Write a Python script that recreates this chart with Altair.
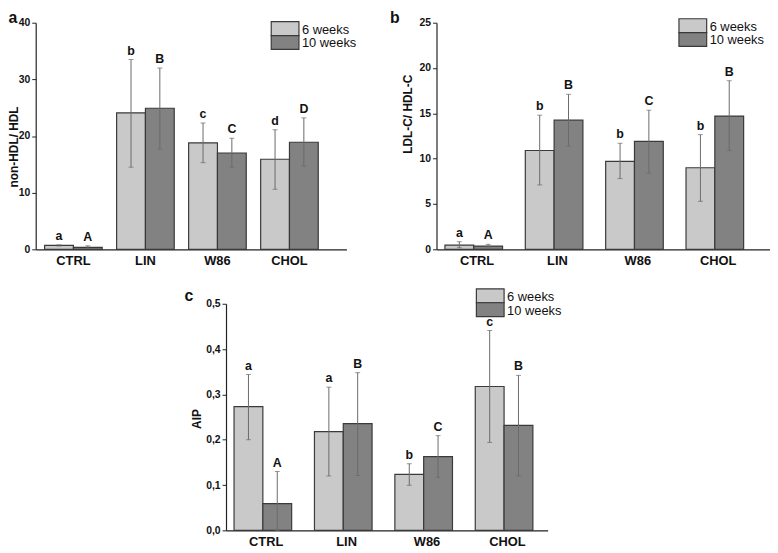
import altair as alt
import pandas as pd

groups = ["CTRL", "LIN", "W86", "CHOL"]
series = ["6 weeks", "10 weeks"]
colors = ["#c9c9c9", "#828282"]

# Panel a: non-HDL / HDL
a_6 = [0.7, 24.1, 18.8, 15.9]
a_6_lo = [0.58, 14.5, 15.3, 10.6]
a_6_hi = [0.8, 33.5, 22.3, 21.1]
a_10 = [0.35, 24.9, 17.0, 18.9]
a_10_lo = [0.17, 17.7, 14.5, 14.7]
a_10_hi = [0.62, 32.0, 19.6, 23.2]
a_lab6 = ["a", "b", "c", "d"]
a_lab10 = ["A", "B", "C", "D"]

# Panel b: LDL-C / HDL-C
b_6 = [0.47, 10.9, 9.7, 9.0]
b_6_lo = [0.18, 7.1, 7.8, 5.3]
b_6_hi = [0.84, 14.8, 11.7, 12.65]
b_10 = [0.36, 14.25, 11.9, 14.7]
b_10_lo = [0.26, 11.4, 8.4, 10.9]
b_10_hi = [0.55, 17.1, 15.35, 18.6]
b_lab6 = ["a", "b", "b", "b"]
b_lab10 = ["A", "B", "C", "B"]

# Panel c: AIP
c_6 = [0.273, 0.218, 0.1235, 0.3175]
c_6_lo = [0.2, 0.12, 0.0995, 0.194]
c_6_hi = [0.344, 0.316, 0.147, 0.441]
c_10 = [0.059, 0.2355, 0.1627, 0.2318]
c_10_lo = [0.0, 0.121, 0.117, 0.12]
c_10_hi = [0.13, 0.348, 0.209, 0.342]
c_lab6 = ["a", "a", "b", "c"]
c_lab10 = ["A", "B", "C", "B"]

a_ticks = [0, 5, 10, 15, 20, 25, 30, 35, 40]
b_ticks = [0, 2.5, 5, 7.5, 10, 12.5, 15, 17.5, 20, 22.5, 25]
c_ticks = [0, 0.05, 0.1, 0.15, 0.2, 0.25, 0.3, 0.35, 0.4, 0.45, 0.5]

FONT = "Liberation Sans"


def table(v6, lo6, hi6, l6, v10, lo10, hi10, l10):
    rows = []
    for i, g in enumerate(groups):
        rows.append(dict(group=g, series=series[0], value=v6[i], lo=lo6[i], hi=hi6[i], label=l6[i]))
        rows.append(dict(group=g, series=series[1], value=v10[i], lo=lo10[i], hi=hi10[i], label=l10[i]))
    return pd.DataFrame(rows)


def panel(df, ymax, ticks, label_test, label_expr, ytitle, width, height,
          pad_outer, align, title_xy, letter, letter_xy, legend_xy,
          x_range=None, shift=0):
    sc = dict(paddingInner=0.2, paddingOuter=pad_outer, align=align)
    if x_range is not None:
        sc["range"] = x_range
    x = alt.X("group:N", sort=groups, title=None, scale=alt.Scale(**sc),
              axis=alt.Axis(labelAngle=0, ticks=False, labelFontWeight="bold",
                            labelFontSize=13, labelPadding=5, labelColor="#111",
                            domainColor="#222", domainWidth=1.2))
    xo = alt.XOffset("series:N", sort=series,
                     scale=alt.Scale(paddingInner=0, paddingOuter=0))
    y_axis = alt.Axis(values=ticks, labelExpr=f"({label_test}) ? {label_expr} : ''",
                      grid=False, tickSize=4, tickColor="#222", domainColor="#222",
                      domainWidth=1.2, labelFontWeight="bold", labelFontSize=10.5,
                      labelPadding=2, labelColor="#111", titleFontWeight="bold",
                      titleFontSize=12, titleColor="#111",
                      titleX=title_xy[0], titleY=title_xy[1], titleAngle=270,
                      titleBaseline="alphabetic", titleAlign="center",
                      offset=-shift)
    y = alt.Y("value:Q", title=ytitle, axis=y_axis,
              scale=alt.Scale(domain=[0, ymax], nice=False, zero=True))
    base = alt.Chart(df)
    bars = base.mark_bar(stroke="#3a3a3a", strokeWidth=1.2).encode(
        x=x, xOffset=xo, y=y,
        color=alt.Color("series:N", scale=alt.Scale(domain=series, range=colors), legend=None))
    err = base.mark_rule(color="#6a6a6a", strokeWidth=1).encode(
        x=x, xOffset=xo, y="lo:Q", y2="hi:Q")
    cap_hi = base.mark_tick(color="#6a6a6a", size=5, thickness=1, orient="horizontal").encode(
        x=x, xOffset=xo, y="hi:Q")
    cap_lo = base.mark_tick(color="#6a6a6a", size=5, thickness=1, orient="horizontal").encode(
        x=x, xOffset=xo, y="lo:Q")
    letters = base.mark_text(fontWeight="bold", fontSize=12.5, dy=-5, baseline="alphabetic",
                             color="#111").encode(x=x, xOffset=xo, y="hi:Q", text="label:N")
    layers = [bars, err, cap_hi, cap_lo, letters]
    lx, ly = legend_xy
    lx += shift
    bw, bh = 28, 14
    for i, s in enumerate(series):
        d = pd.DataFrame({"series": [s]})
        layers.append(alt.Chart(d).mark_rect(fill=colors[i], stroke="#3a3a3a", strokeWidth=1.2).encode(
            x=alt.value(lx), x2=alt.value(lx + bw),
            y=alt.value(ly + i * bh), y2=alt.value(ly + (i + 1) * bh)))
        layers.append(alt.Chart(d).mark_text(align="left", baseline="middle", fontSize=13,
                                             color="#111").encode(
            x=alt.value(lx + bw + 3), y=alt.value(ly + i * bh + bh / 2 + 1), text="series:N"))
    lt = pd.DataFrame({"t": [letter]})
    layers.append(alt.Chart(lt).mark_text(align="left", baseline="alphabetic", fontSize=16,
                                          fontWeight="bold", color="#111").encode(
        x=alt.value(letter_xy[0] + shift), y=alt.value(letter_xy[1]), text="t:N"))
    return alt.layer(*layers).properties(width=width, height=height)


df_a = table(a_6, a_6_lo, a_6_hi, a_lab6, a_10, a_10_lo, a_10_hi, a_lab10)
df_b = table(b_6, b_6_lo, b_6_hi, b_lab6, b_10, b_10_lo, b_10_hi, b_lab10)
df_c = table(c_6, c_6_lo, c_6_hi, c_lab6, c_10, c_10_lo, c_10_hi, c_lab10)

C_SHIFT = 192.3

pa = panel(df_a, 40, a_ticks, "datum.value % 10 === 0", "datum.label",
           "non-HDL/ HDL", 314, 229, 0.2575, 0.24, (-18.5, 125), "a", (-27.5, 0), (238, -1))
pb = panel(df_b, 25, b_ticks, "datum.value % 5 === 0", "datum.label",
           "LDL-C/ HDL-C", 337, 229, 0.175, 0.30, (-25.5, 92), "b", (-47, 0), (245, -4))
pc = panel(df_c, 0.5, c_ticks, "round(datum.value * 100) % 10 === 0",
           "replace(format(datum.value, '.1f'), '.', ',')",
           "AIP", 314, 229, 0.1, 0.5, (-26, 116), "c", (-42, -3), (253, -15),
           x_range=[C_SHIFT, C_SHIFT + 325], shift=C_SHIFT)

chart = alt.concat(pa, pb, pc, columns=2, spacing={"row": 55, "column": 91},
                   bounds="flush").properties(
    autosize=alt.AutoSizeParams(type="none"),
    padding={"left": 28, "top": 12, "right": 742, "bottom": 533},
).configure(font=FONT).configure_view(stroke=None)

chart.save("out.html", embed_options={"renderer": "svg", "actions": False})
